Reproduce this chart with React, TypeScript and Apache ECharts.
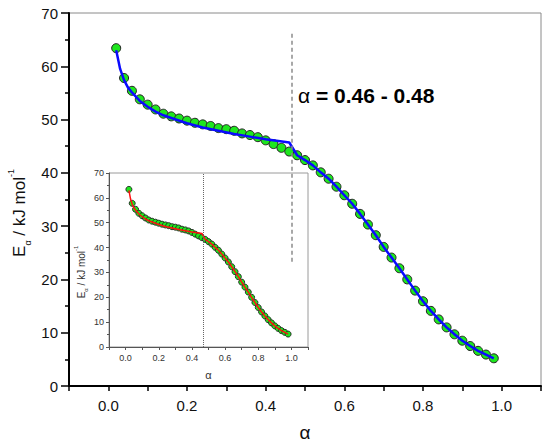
import React, { useEffect, useRef } from "react";
import * as echarts from "echarts";

// conversion degree α
const alpha = [
  0.02, 0.04, 0.06, 0.08, 0.1, 0.12, 0.14, 0.16, 0.18, 0.2,
  0.22, 0.24, 0.26, 0.28, 0.3, 0.32, 0.34, 0.36, 0.38, 0.4,
  0.42, 0.44, 0.46, 0.48, 0.5, 0.52, 0.54, 0.56, 0.58, 0.6,
  0.62, 0.64, 0.66, 0.68, 0.7, 0.72, 0.74, 0.76, 0.78, 0.8,
  0.82, 0.84, 0.86, 0.88, 0.9, 0.92, 0.94, 0.96, 0.98,
];
// activation energy Eα (kJ/mol)
const activationEnergy = [
  63.4, 57.8, 55.4, 53.8, 52.8, 51.9, 51.1, 50.6, 50.2, 49.8,
  49.4, 49.1, 48.8, 48.4, 48.2, 47.9, 47.4, 47.1, 46.7, 46.1,
  45.4, 44.7, 44.0, 43.3, 42.4, 41.4, 40.1, 38.9, 37.4, 35.8,
  34.2, 32.3, 30.3, 28.3, 26.1, 24.1, 22.1, 20.0, 17.9, 15.9,
  14.1, 12.5, 11.0, 9.7, 8.5, 7.5, 6.6, 5.9, 5.2,
];
// fitted curve (two regimes, break at α ≈ 0.46–0.48)
const fitAlpha = [
  0.02, 0.03, 0.04, 0.05, 0.06, 0.08, 0.1, 0.12, 0.14, 0.16, 0.2,
  0.24, 0.28, 0.32, 0.36, 0.4, 0.46,
  0.48, 0.5, 0.52, 0.54, 0.56, 0.58, 0.6, 0.62, 0.64, 0.66, 0.68, 0.7,
  0.72, 0.74, 0.76, 0.78, 0.8, 0.82, 0.84, 0.86, 0.88, 0.9, 0.92, 0.94,
  0.96, 0.98,
];
const fitEnergy = [
  63.0, 59.5, 57.4, 56.0, 55.1, 53.5, 52.4, 51.5, 50.8, 50.3, 49.3,
  48.5, 47.9, 47.3, 46.8, 46.3, 45.7,
  43.3, 42.4, 41.4, 40.1, 38.9, 37.4, 35.8, 34.2, 32.3, 30.3, 28.3, 26.1,
  24.1, 22.1, 20.0, 17.9, 15.9, 14.1, 12.5, 11.0, 9.7, 8.5, 7.5, 6.6,
  5.9, 5.2,
];
const transitionAlpha = 0.467;
const guideRange = [23.3, 66.3];
const annotation = "{g|α} = 0.46 - 0.48";

const FONT = "'Liberation Sans', Arial, Helvetica, sans-serif";

const evenLabel = (v: number) => {
  const k = Math.round(v * 10);
  return k >= 0 && k <= 10 && k % 2 === 0 ? (k / 10).toFixed(1) : "";
};

export default function App() {
  const ref = useRef<HTMLDivElement>(null);

  useEffect(() => {
    document.body.style.margin = "0";
    if (!ref.current) return;
    const chart = echarts.init(ref.current, undefined, { renderer: "svg" });

    const points = alpha.map((a, i) => [a, activationEnergy[i]]);
    const fit = fitAlpha.map((a, i) => [a, fitEnergy[i]]);

    const mainAxisLine = { show: true, onZero: false, lineStyle: { color: "#000", width: 2 } };
    const insetAxisLine = { show: true, onZero: false, lineStyle: { color: "#555", width: 1 } };

    const option: any = {
      animation: false,
      textStyle: { fontFamily: FONT },
      grid: [
        { left: 69, top: 13, width: 472, height: 373, show: true, borderColor: "#8a8a8a", borderWidth: 1 },
        { left: 109, top: 173, width: 199, height: 174, show: true, borderColor: "#9a9a9a", borderWidth: 1 },
      ],
      xAxis: [
        {
          type: "value", gridIndex: 0, min: -0.1, max: 1.1, interval: 0.1,
          name: "α", nameLocation: "middle", nameGap: 37,
          nameTextStyle: { fontSize: 19, color: "#111", fontFamily: FONT },
          axisLine: mainAxisLine,
          axisTick: { show: true, length: 5, lineStyle: { color: "#000", width: 1.5 } },
          axisLabel: { formatter: evenLabel, fontSize: 15, color: "#111", margin: 12, fontFamily: FONT },
          splitLine: { show: false },
        },
        {
          type: "value", gridIndex: 1, min: -0.1, max: 1.1, interval: 0.1,
          name: "α", nameLocation: "middle", nameGap: 22,
          nameTextStyle: { fontSize: 11, color: "#333", fontFamily: FONT },
          axisLine: insetAxisLine,
          axisTick: { show: true, length: 3, lineStyle: { color: "#555", width: 1 } },
          axisLabel: { formatter: evenLabel, fontSize: 9, color: "#333", margin: 6, fontFamily: FONT },
          splitLine: { show: false },
        },
      ],
      yAxis: [
        {
          type: "value", gridIndex: 0, min: 0, max: 70, interval: 10,
          axisLine: mainAxisLine,
          axisTick: { show: true, length: 8, lineStyle: { color: "#000", width: 1.5 } },
          minorTick: { show: true, splitNumber: 2, length: 4, lineStyle: { color: "#000", width: 1.5 } },
          axisLabel: { fontSize: 15, color: "#111", margin: 11, fontFamily: FONT },
          splitLine: { show: false },
          minorSplitLine: { show: false },
        },
        {
          type: "value", gridIndex: 1, min: 0, max: 70, interval: 10,
          axisLine: insetAxisLine,
          axisTick: { show: true, length: 3, lineStyle: { color: "#555", width: 1 } },
          minorTick: { show: true, splitNumber: 2, length: 2, lineStyle: { color: "#555", width: 1 } },
          axisLabel: { fontSize: 9, color: "#333", margin: 5, fontFamily: FONT },
          splitLine: { show: false },
          minorSplitLine: { show: false },
        },
      ],
      series: [
        {
          type: "scatter", xAxisIndex: 0, yAxisIndex: 0, data: points,
          symbol: "circle", symbolSize: 9, z: 2,
          itemStyle: { color: "#1ee61e", opacity: 1, borderColor: "#222", borderWidth: 1 },
        },
        {
          type: "line", xAxisIndex: 0, yAxisIndex: 0, data: fit,
          symbol: "none", z: 3,
          lineStyle: { color: "#0a0aff", width: 2.5 },
          markLine: {
            silent: true, symbol: ["none", "none"], label: { show: false },
            lineStyle: { color: "#8c8c8c", type: [4, 3], width: 1.5 },
            data: [[{ coord: [transitionAlpha, guideRange[0]] }, { coord: [transitionAlpha, guideRange[1]] }]],
          },
        },
        {
          type: "scatter", xAxisIndex: 1, yAxisIndex: 1, data: points,
          symbol: "circle", symbolSize: 6, z: 2,
          itemStyle: { color: "#1ee61e", opacity: 1, borderColor: "#222", borderWidth: 0.9 },
        },
        {
          type: "line", xAxisIndex: 1, yAxisIndex: 1, data: fit,
          symbol: "none", z: 3,
          lineStyle: { color: "#ff1010", width: 1.5 },
          markLine: {
            silent: true, symbol: ["none", "none"], label: { show: false },
            lineStyle: { color: "#666", type: "dotted", width: 1 },
            data: [{ xAxis: transitionAlpha }],
          },
        },
      ],
      graphic: [
        {
          type: "text", x: 19, y: 213, rotation: Math.PI / 2,
          style: {
            text: "{m|E}{s|α}{m| / kJ mol}{p|-1}",
            align: "center", verticalAlign: "middle",
            rich: {
              m: { fontSize: 17, lineHeight: 26, fill: "#111", fontFamily: FONT, verticalAlign: "middle" },
              s: { fontSize: 9, lineHeight: 12, fill: "#111", fontFamily: FONT, verticalAlign: "bottom" },
              p: { fontSize: 9, lineHeight: 18, fill: "#111", fontFamily: FONT, verticalAlign: "top" },
            },
          },
        },
        {
          type: "text", x: 81, y: 272, rotation: Math.PI / 2,
          style: {
            text: "{m|E}{s|α}{m| / kJ mol}{p|-1}",
            align: "center", verticalAlign: "middle",
            rich: {
              m: { fontSize: 10, lineHeight: 16, fill: "#333", fontFamily: FONT, verticalAlign: "middle" },
              s: { fontSize: 6, lineHeight: 8, fill: "#333", fontFamily: FONT, verticalAlign: "bottom" },
              p: { fontSize: 6, lineHeight: 11, fill: "#333", fontFamily: FONT, verticalAlign: "top" },
            },
          },
        },
        {
          type: "text", x: 298, y: 95,
          style: {
            text: annotation,
            align: "left", verticalAlign: "middle",
            font: `bold 21px ${FONT}`, fill: "#000",
            rich: {
              g: { fontSize: 21, fontWeight: "normal", fill: "#000", fontFamily: FONT },
            },
          },
        },
      ],
    };

    chart.setOption(option);
    return () => chart.dispose();
  }, []);

  return <div ref={ref} style={{ width: 550, height: 448 }} />;
}
